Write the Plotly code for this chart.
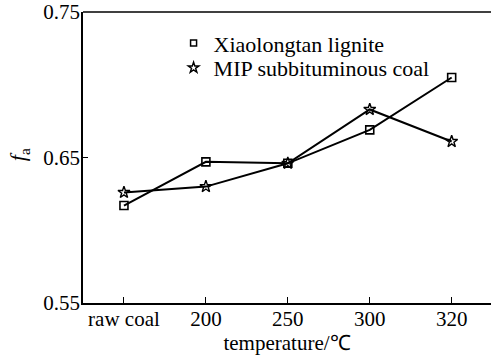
import plotly.graph_objects as go

categories = ["raw coal", "200", "250", "300", "320"]
lignite = [0.617, 0.647, 0.646, 0.669, 0.705]
mip = [0.626, 0.630, 0.646, 0.683, 0.661]
y_ticks = [0.55, 0.65, 0.75]

FONT = "Liberation Serif"
SZ = 21

sq = dict(symbol="square-open", size=8, color="black", line=dict(width=1.6))
st = dict(symbol="star-open", size=9, color="black", line=dict(width=1.4))
sq_leg = dict(symbol="square-open", size=6, color="black", line=dict(width=1.5))
st_leg = dict(symbol="star-open", size=8, color="black", line=dict(width=1.4))

fig = go.Figure()

# data lines
fig.add_trace(go.Scatter(x=categories, y=lignite, mode="lines+markers", showlegend=False,
                         line=dict(color="black", width=2), marker=sq))
fig.add_trace(go.Scatter(x=categories, y=mip, mode="lines+markers", showlegend=False,
                         line=dict(color="black", width=2), marker=st))

# legend entries show markers only, one legend box per row
fig.add_trace(go.Scatter(x=[None], y=[None], mode="markers", name="Xiaolongtan lignite",
                         marker=sq_leg, legend="legend"))
fig.add_trace(go.Scatter(x=[None], y=[None], mode="markers", name="MIP subbituminous coal",
                         marker=st_leg, legend="legend2"))

leg = dict(xanchor="left", yanchor="middle", bgcolor="rgba(0,0,0,0)", borderwidth=0,
           font=dict(family=FONT, size=22, color="black"), itemwidth=30)

fig.update_layout(
    width=491, height=361,
    margin=dict(l=83, r=0, t=12, b=58),
    paper_bgcolor="white", plot_bgcolor="white",
    font=dict(family=FONT, size=SZ, color="black"),
    showlegend=True,
    legend=dict(x=0.222, y=0.893, **leg),
    legend2=dict(x=0.222, y=0.808, **leg),
    xaxis=dict(
        type="category", range=[-0.5, 4.48],
        showline=True, linecolor="black", linewidth=1.5,
        ticks="inside", ticklen=6, tickwidth=1.2, tickcolor="black",
        showgrid=False, zeroline=False, ticklabelstandoff=-4,
        tickfont=dict(family=FONT, size=SZ, color="black"),
        title=dict(text="temperature/℃", font=dict(family=FONT, size=SZ, color="black"), standoff=2),
    ),
    yaxis=dict(
        range=[0.55, 0.75], tickvals=y_ticks, ticktext=[f"{v:.2f}" for v in y_ticks],
        showline=True, linecolor="black", linewidth=1.5,
        ticks="inside", ticklen=5, tickwidth=1.2, tickcolor="black",
        showgrid=False, zeroline=False, ticklabelstandoff=-3,
        tickfont=dict(family=FONT, size=SZ, color="black"),
    ),
    shapes=[dict(type="line", xref="paper", yref="paper", x0=0, x1=1, y0=1, y1=1,
                 line=dict(color="black", width=1.5))],
    annotations=[dict(
        text="<i>f</i><sub>a</sub>", xref="paper", yref="paper",
        x=-0.158, y=0.51, xanchor="center", yanchor="middle",
        showarrow=False, textangle=-90, font=dict(family=FONT, size=22, color="black"),
    )],
)

fig.write_html("out.html")
